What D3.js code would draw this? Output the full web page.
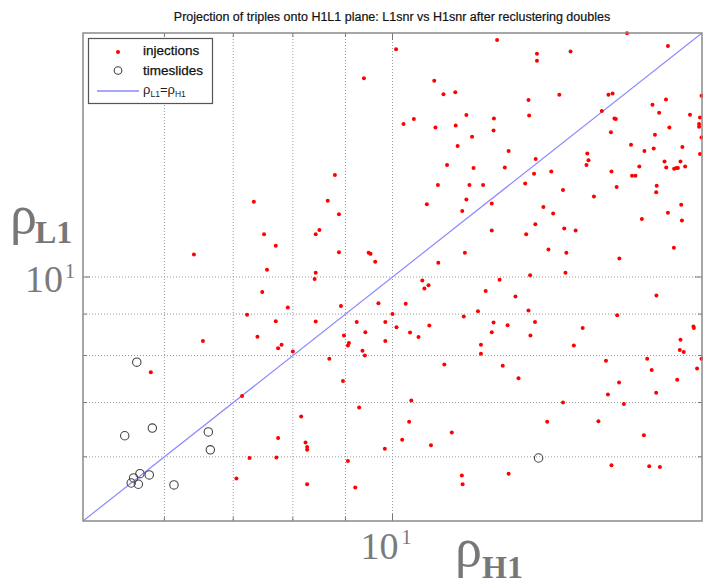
<!DOCTYPE html>
<html><head><meta charset="utf-8">
<script src="https://cdn.jsdelivr.net/npm/d3@7"></script>
<style>body{margin:0;background:#fff}svg{display:block}</style>
</head><body><svg id="c" width="703" height="585"></svg>
<script>
const injH1=[10.08,9.38,10.25,8.79,7.33,8.65,8.87,7.50,8.42,8.49,
7.70,6.41,8.87,9.48,9.52,9.62,7.55,8.42,8.40,7.47,
9.69,7.91,8.91,7.22,10.00,7.70,8.42,9.23,9.84,10.09,
9.41,7.39,8.97,6.54,9.84,9.07,9.05,7.80,7.74,9.35,
8.00,9.40,8.68,5.82,8.95,7.14,9.28,8.15,7.74,10.22,
8.23,8.26,8.26,9.83,7.26,7.71,9.05,7.05,8.26,9.20,
12.64,16.91,18.53,13.82,13.82,14.90,10.98,11.21,11.51,14.53,
16.22,16.37,13.56,15.98,18.45,17.90,19.98,18.17,19.47,19.91,
19.87,19.87,19.98,10.49,11.01,11.52,11.80,12.55,13.58,12.54,
11.95,16.44,16.49,16.31,18.59,18.00,11.57,12.97,17.06,19.14,
17.95,17.58,19.91,13.78,11.30,11.99,12.86,13.73,14.27,15.47,
15.51,15.44,16.33,17.38,18.39,18.46,19.06,18.79,18.88,18.95,
19.26,17.10,17.23,11.07,11.88,12.25,13.46,16.52,18.07,18.05,
14.65,15.70,10.80,11.80,11.69,12.49,14.02,14.33,19.09,18.53,
17.48,19.12,13.77,14.69,15.07,12.49,13.49,18.78,16.62,11.76,
11.08,14.18,14.76,13.61,14.73,10.69,10.74,10.84,12.71,12.32,
13.17,18.06,10.30,12.11,13.56,11.73,16.54,13.76,12.54,12.94,
10.86,15.31,19.62,19.64,10.40,10.60,12.49,13.62,19.06,12.19,
15.01,19.03,19.20,12.19,17.69,19.98,16.13,11.23,12.80,17.87,
19.78,13.26,16.61,18.92,16.20,18.05,10.43,14.65,16.79,10.38,
14.14,15.86,11.42,17.56,10.90,16.33,17.77,18.20,11.68,11.70,12.97];
const injL1=[19.10,17.59,15.44,13.36,12.38,12.42,11.95,11.29,11.29,11.43,
10.93,10.66,10.73,10.71,10.68,10.44,10.21,10.12,9.94,9.58,
9.28,9.17,9.21,8.98,9.00,8.82,8.81,8.80,8.80,8.67,
8.55,8.44,8.47,8.34,8.34,8.29,8.23,8.25,8.17,8.11,
8.09,8.00,7.93,7.63,7.44,7.13,6.90,6.73,6.33,6.30,
6.25,6.17,6.12,6.14,5.98,5.99,5.93,5.64,5.55,5.50,
19.61,19.98,19.28,18.85,18.49,18.97,17.46,16.81,16.90,16.78,
16.78,16.84,16.53,16.03,16.56,16.31,16.73,15.94,15.85,15.73,
15.44,15.32,14.86,15.66,15.29,15.38,15.84,15.69,15.82,15.16,
14.89,15.69,15.66,15.09,15.29,14.98,14.51,14.30,14.56,14.47,
14.41,14.30,14.18,13.98,13.75,13.63,13.65,13.41,13.49,14.20,
13.93,13.75,13.49,13.69,13.88,13.65,13.88,13.60,13.63,13.63,
13.69,13.33,13.33,12.99,12.99,12.99,13.04,12.91,12.96,12.72,
12.80,12.57,12.30,12.46,12.06,12.32,12.20,11.98,12.28,12.00,
11.79,11.74,11.62,11.48,11.41,11.41,11.29,10.87,10.54,10.71,
10.41,10.81,10.71,10.05,10.12,9.90,9.68,9.77,9.92,9.61,
9.46,9.49,9.27,9.07,9.09,8.94,8.97,8.80,8.79,8.72,
8.71,8.65,8.69,8.65,8.54,8.43,8.55,8.47,8.37,8.25,
8.23,8.13,8.08,8.04,7.93,7.93,7.88,7.80,7.77,7.68,
7.71,7.50,7.41,7.47,7.16,7.20,7.04,7.00,6.97,6.63,
6.63,6.64,6.43,6.38,6.20,5.86,5.84,5.83,5.69,5.55,5.72];
const slideH1=[5.64,5.84,5.49,6.62,6.65,5.68,5.80,5.60,5.57,5.66,6.13,13.87];
const slideL1=[7.85,6.51,6.37,6.44,6.12,5.72,5.70,5.65,5.57,5.55,5.54,5.98];
const axisDomain=[5,20];
const gridTicks=[6,7,8,9,10];
const majorTicks=[10];
const tickBase="10", tickExp="1";
const titleText="Projection of triples onto H1L1 plane: L1snr vs H1snr after reclustering doubles";
const legendLabels=["injections","timeslides"];

const svg=d3.select("#c");
const L=83,R=702,T=33,B=521;
const x=d3.scaleLog().domain(axisDomain).range([L,R]);
const y=d3.scaleLog().domain(axisDomain).range([B,T]);

svg.append("rect").attr("x",0).attr("y",0).attr("width",703).attr("height",585).attr("fill","#fff");

// title
svg.append("text").attr("x",392).attr("y",21).attr("text-anchor","middle")
  .attr("font-family","Liberation Sans, Arial, sans-serif").attr("font-size",12.5)
  .attr("fill","#111").attr("stroke","#111").attr("stroke-width",0.2).text(titleText);

// grid
const g=svg.append("g");
g.selectAll("line.gx").data(gridTicks).enter().append("line")
  .attr("x1",d=>x(d)).attr("x2",d=>x(d)).attr("y1",T).attr("y2",B)
  .attr("stroke","#999").attr("stroke-width",1).attr("stroke-dasharray","1,2");
g.selectAll("line.gy").data(gridTicks).enter().append("line")
  .attr("y1",d=>y(d)).attr("y2",d=>y(d)).attr("x1",L).attr("x2",R)
  .attr("stroke","#999").attr("stroke-width",1).attr("stroke-dasharray","1,2");

// ticks (inward) on all sides
const tl=d=>majorTicks.includes(d)?7:4;
gridTicks.forEach(d=>{
  g.append("line").attr("x1",x(d)).attr("x2",x(d)).attr("y1",B).attr("y2",B-tl(d)).attr("stroke","#777");
  g.append("line").attr("x1",x(d)).attr("x2",x(d)).attr("y1",T).attr("y2",T+tl(d)).attr("stroke","#777");
  g.append("line").attr("y1",y(d)).attr("y2",y(d)).attr("x1",L).attr("x2",L+tl(d)).attr("stroke","#777");
  g.append("line").attr("y1",y(d)).attr("y2",y(d)).attr("x1",R).attr("x2",R-tl(d)).attr("stroke","#777");
});

// diagonal
svg.append("defs").append("clipPath").attr("id","clip").append("rect")
  .attr("x",L).attr("y",T).attr("width",R-L).attr("height",B-T);
svg.append("line").attr("clip-path","url(#clip)")
  .attr("x1",x(axisDomain[0])).attr("y1",y(axisDomain[0]))
  .attr("x2",x(axisDomain[1])).attr("y2",y(axisDomain[1]))
  .attr("stroke","#8a8aff").attr("stroke-width",1.2);

// injections
svg.append("g").selectAll("circle").data(injH1.map((h,i)=>[h,injL1[i]])).enter().append("circle")
  .attr("cx",d=>x(d[0])).attr("cy",d=>y(d[1])).attr("r",2).attr("fill","#ff0000");
// timeslides
svg.append("g").selectAll("circle").data(slideH1.map((h,i)=>[h,slideL1[i]])).enter().append("circle")
  .attr("cx",d=>x(d[0])).attr("cy",d=>y(d[1])).attr("r",4.2)
  .attr("fill","none").attr("stroke","#444").attr("stroke-width",1.1);

// frame
svg.append("rect").attr("x",L).attr("y",T).attr("width",R-L).attr("height",B-T)
  .attr("fill","none").attr("stroke","#8a8a8a").attr("stroke-width",1.5);

// tick labels
const serif="Liberation Serif, Times New Roman, serif";
majorTicks.forEach(d=>{
  svg.append("text").attr("x",x(d)+6).attr("y",559).attr("text-anchor","end")
    .attr("font-family",serif).attr("font-size",38).attr("fill","#7a7a7a").text(tickBase);
  svg.append("text").attr("x",x(d)+9).attr("y",544)
    .attr("font-family",serif).attr("font-size",20).attr("fill","#7a7a7a").text(tickExp);
  svg.append("text").attr("x",63).attr("y",y(d)+15).attr("text-anchor","end")
    .attr("font-family",serif).attr("font-size",38).attr("fill","#7a7a7a").text(tickBase);
  svg.append("text").attr("x",65).attr("y",y(d)+1)
    .attr("font-family",serif).attr("font-size",20).attr("fill","#7a7a7a").text(tickExp);
});

// axis labels
svg.append("text").attr("x",10).attr("y",233).attr("font-family",serif).attr("font-size",54).attr("fill","#777").text("ρ");
svg.append("text").attr("x",35).attr("y",243).attr("font-family",serif).attr("font-size",32).attr("font-weight","bold").attr("fill","#777").text("L1");
svg.append("text").attr("x",455).attr("y",566).attr("font-family",serif).attr("font-size",54).attr("fill","#777").text("ρ");
svg.append("text").attr("x",482).attr("y",578).attr("font-family",serif).attr("font-size",32).attr("font-weight","bold").attr("fill","#777").text("H1");

// legend
const sans="Liberation Sans, Arial, sans-serif";
const lg=svg.append("g");
lg.append("rect").attr("x",88.5).attr("y",38.5).attr("width",124).attr("height",65)
  .attr("fill","#fff").attr("stroke","#555").attr("stroke-width",1.2);
lg.append("circle").attr("cx",118).attr("cy",52).attr("r",2).attr("fill","#ff0000");
lg.append("circle").attr("cx",118).attr("cy",70.5).attr("r",3.8).attr("fill","none").attr("stroke","#444").attr("stroke-width",1.1);
lg.append("line").attr("x1",97).attr("x2",139).attr("y1",91).attr("y2",91).attr("stroke","#8a8aff").attr("stroke-width",1.4);
lg.append("text").attr("x",143).attr("y",55).attr("font-family",sans).attr("font-size",13.5).attr("fill","#111").attr("stroke","#111").attr("stroke-width",0.25).text(legendLabels[0]);
lg.append("text").attr("x",143).attr("y",75).attr("font-family",sans).attr("font-size",13.5).attr("fill","#111").attr("stroke","#111").attr("stroke-width",0.25).text(legendLabels[1]);
const t3=lg.append("text").attr("x",143).attr("y",94).attr("font-family",sans).attr("font-size",13).attr("fill","#222");
t3.append("tspan").text("ρ");
t3.append("tspan").attr("font-size",8.5).attr("dy",3).text("L1");
t3.append("tspan").attr("dy",-3).text("=ρ");
t3.append("tspan").attr("font-size",8.5).attr("dy",3).text("H1");
</script></body></html>
